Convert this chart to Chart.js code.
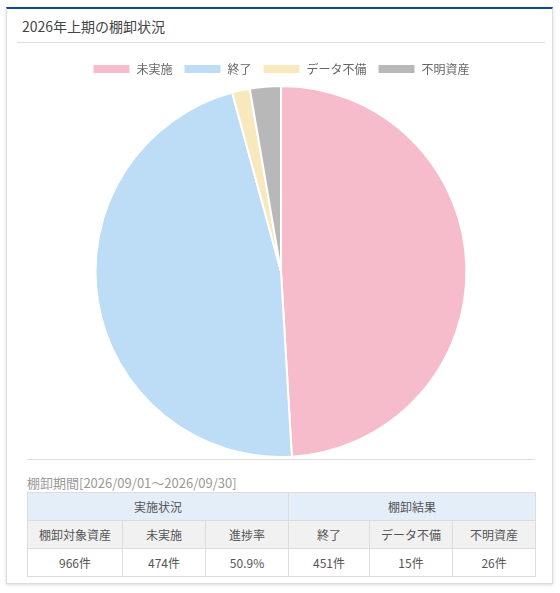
<!DOCTYPE html>
<html><head><meta charset="utf-8">
<script src="https://cdn.jsdelivr.net/npm/chart.js@4/dist/chart.umd.min.js"></script>
<style>
html,body{margin:0;padding:0;background:#fff;width:560px;height:593px;overflow:hidden;font-family:"Noto Sans CJK JP","Noto Sans",sans-serif;}
.card{position:absolute;left:6px;top:7px;width:547px;height:577px;border:1px solid #ddd;border-top:2px solid #0d4b8b;box-sizing:border-box;box-shadow:0 1px 3px rgba(0,0,0,0.15);background:#fff;}
.title{position:absolute;left:22px;top:16px;font-size:14px;color:#444;line-height:20px;}
.sep1{position:absolute;left:17px;top:42px;width:528px;height:1px;background:#ddd;}
.sep2{position:absolute;left:27px;top:459px;width:508px;height:1px;background:#ddd;}
#wrap{position:absolute;left:27px;top:52px;width:508px;height:406px;}
.period{position:absolute;left:27px;top:474px;font-size:13px;color:#999;line-height:18px;}
table{position:absolute;left:27px;top:492px;width:508px;border-collapse:collapse;font-size:12px;color:#555;table-layout:fixed;}
td{border:1px solid #ddd;text-align:center;height:27px;padding:0;}
tr.h1 td{background:#e4eef8;}
tr.h2 td{background:#f1f1f1;}
</style></head>
<body>
<div class="card"></div>
<div class="title">2026年上期の棚卸状況</div>
<div class="sep1"></div>
<div id="wrap"><canvas id="c" width="508" height="406"></canvas></div>
<div class="sep2"></div>
<div class="period">棚卸期間[2026/09/01～2026/09/30]</div>
<table id="tbl"></table>
<script>
const categories = ["未実施", "終了", "データ不備", "不明資産"];
const counts = [474, 451, 15, 26];
const colors = ["#f7bccb", "#bddcf5", "#f7e9bd", "#b8b8b8"];
const total = 966;
const progress = "50.9%";

const tbl = document.getElementById('tbl');
tbl.innerHTML =
 '<colgroup><col style="width:95px"><col style="width:83px"><col style="width:83px"><col style="width:81px"><col style="width:83px"><col style="width:83px"></colgroup>' +
 '<tr class="h1"><td colspan="3">実施状況</td><td colspan="3">棚卸結果</td></tr>' +
 '<tr class="h2"><td>棚卸対象資産</td><td>' + categories[0] + '</td><td>進捗率</td><td>' + categories[1] + '</td><td>' + categories[2] + '</td><td>' + categories[3] + '</td></tr>' +
 '<tr><td>' + total + '件</td><td>' + counts[0] + '件</td><td>' + progress + '</td><td>' + counts[1] + '件</td><td>' + counts[2] + '件</td><td>' + counts[3] + '件</td></tr>';

new Chart(document.getElementById('c'), {
  type: 'pie',
  data: { labels: categories, datasets: [{ data: counts, backgroundColor: colors, borderColor: '#fff', borderWidth: 2 }] },
  options: {
    responsive: false, animation: false,
    layout: { padding: { top: 0, bottom: 0 } },
    plugins: {
      legend: { position: 'top', labels: { boxWidth: 38, boxHeight: 10, color: '#666', font: { size: 12, family: '"Noto Sans CJK JP"' }, padding: 11 } },
      tooltip: { enabled: false }
    }
  }
});
</script>
</body></html>
